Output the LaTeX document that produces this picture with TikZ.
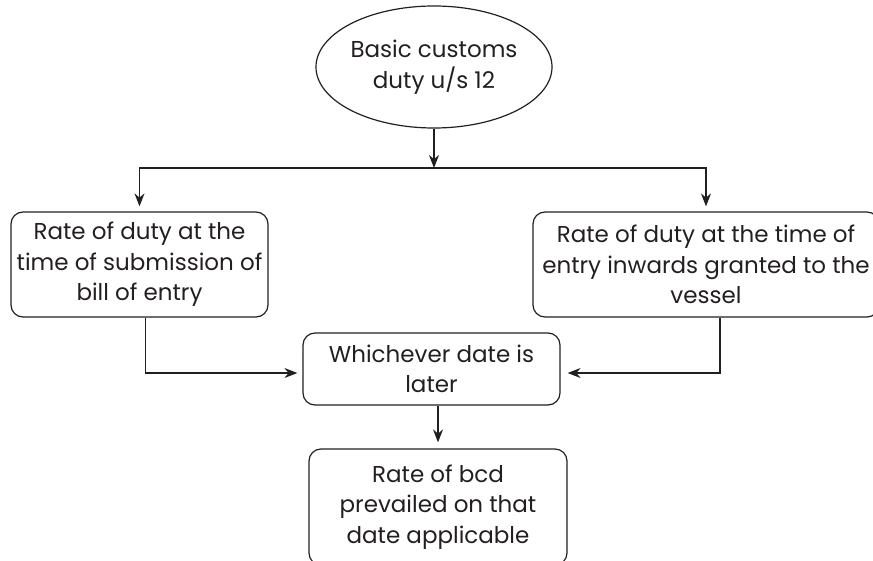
\documentclass[tikz,border=0pt]{standalone}
\usepackage{fontspec}
\setmainfont{Poppins}
\usetikzlibrary{shapes.geometric,arrows.meta}
\definecolor{ink}{HTML}{231F20}
\begin{document}
\begin{tikzpicture}[x=1pt,y=-1pt,
  every node/.style={text=ink,font=\fontsize{23}{30.5}\selectfont,align=center,inner sep=0pt},
  box/.style={draw=ink,line width=1.2pt,rounded corners=12pt,minimum height=#1},
  oval/.style={draw=ink,line width=1.2pt,ellipse,minimum width=222pt,minimum height=122pt},
  arr/.style={draw=ink,line width=1.2pt,-{Stealth[length=13pt,width=10pt]}},
  ln/.style={draw=ink,line width=1.2pt}]
\useasboundingbox (0,0) rectangle (873,561);
\node[oval] (ell) at (434,67) {Basic customs\\duty u/s 12};
\node[box=105pt,minimum width=257pt] (L) at (139.5,264.5) {Rate of duty at the\\time of submission of\\bill of entry};
\node[box=105pt,minimum width=346pt] (R) at (706,264.5) {Rate of duty at the time of\\entry inwards granted to the\\vessel};
\node[box=72pt,minimum width=257pt] (M) at (431.5,369) {Whichever date is\\later};
\node[box=116pt,minimum width=258pt] (B) at (438,507) {Rate of bcd\\prevailed on that\\date applicable};
\coordinate (j) at (434,168);
\draw[arr] (ell.south) -- (j);
\draw[arr,shorten >=5pt] (j) -| (L.north);
\draw[arr,shorten >=5pt] (j) -| (R.north);
\draw[arr,shorten >=5pt] ([xshift=6pt]L.south) |- ([yshift=-4pt]M.west);
\draw[arr,shorten >=7pt] ([xshift=14pt]R.south) |- ([yshift=-4pt]M.east);
\draw[arr,shorten >=6pt] (M.south -| B.north) -- (B.north);
\end{tikzpicture}
\end{document}
